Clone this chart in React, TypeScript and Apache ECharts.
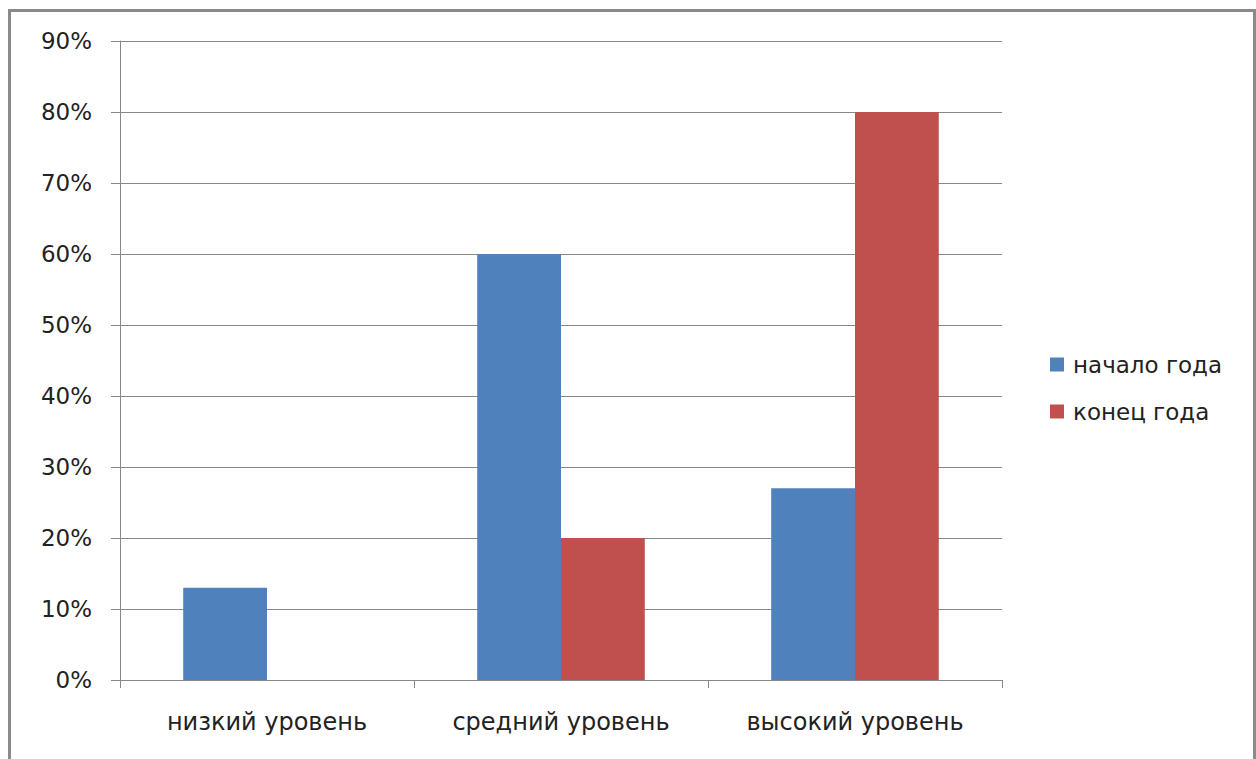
import React, { useEffect, useRef } from "react";
import * as echarts from "echarts";

const categories = ["низкий уровень", "средний уровень", "высокий уровень"];
const seriesNames = ["начало года", "конец года"];
const startOfYear = [13, 60, 27];
const endOfYear = [0, 20, 80];
const yMax = 90;
const yInterval = 10;

export default function App() {
  const ref = useRef<HTMLDivElement>(null);
  useEffect(() => {
    if (!ref.current) return;
    const chart = echarts.init(ref.current, null, { renderer: "svg" });
    const font = "DejaVu Sans";
    chart.setOption({
      animation: false,
      backgroundColor: "#ffffff",
      textStyle: { fontFamily: font },
      graphic: [
        {
          type: "rect",
          shape: { x: 9.5, y: 10.5, width: 1245, height: 760 },
          style: { fill: "none", stroke: "#8a8a8a", lineWidth: 3 },
          silent: true,
        },
      ],
      grid: { left: 120, top: 41, width: 882, height: 639, containLabel: false },
      legend: {
        orient: "vertical",
        left: 1050,
        top: 353,
        padding: 0,
        itemWidth: 14,
        itemHeight: 14,
        itemGap: 24,
        icon: "rect",
        textStyle: { fontFamily: font, fontSize: 23, color: "#222", padding: [0, 0, 0, 4] },
        data: seriesNames,
      },
      xAxis: {
        type: "category",
        data: categories,
        axisLine: { lineStyle: { color: "#888", width: 1 } },
        axisTick: { show: true, length: 8, alignWithLabel: false, lineStyle: { color: "#888" } },
        axisLabel: { fontFamily: font, fontSize: 24, color: "#222", margin: 30 },
      },
      yAxis: {
        type: "value",
        min: 0,
        max: yMax,
        interval: yInterval,
        axisLine: { show: true, lineStyle: { color: "#888", width: 1 } },
        axisTick: { show: true, length: 9, lineStyle: { color: "#888" } },
        axisLabel: { fontFamily: font, fontSize: 23, color: "#222", margin: 28, formatter: "{value}%" },
        splitLine: { show: true, lineStyle: { color: "#888", width: 1 } },
      },
      series: [
        {
          name: seriesNames[0],
          type: "bar",
          data: startOfYear,
          itemStyle: { color: "#4F81BD" },
          barGap: "0%",
          barCategoryGap: "43%",
        },
        {
          name: seriesNames[1],
          type: "bar",
          data: endOfYear,
          itemStyle: { color: "#C0504D" },
          barGap: "0%",
          barCategoryGap: "43%",
        },
      ],
    });
    return () => chart.dispose();
  }, []);
  return (
    <div
      ref={ref}
      style={{ position: "absolute", left: 0, top: 0, width: 1256, height: 759 }}
    />
  );
}
